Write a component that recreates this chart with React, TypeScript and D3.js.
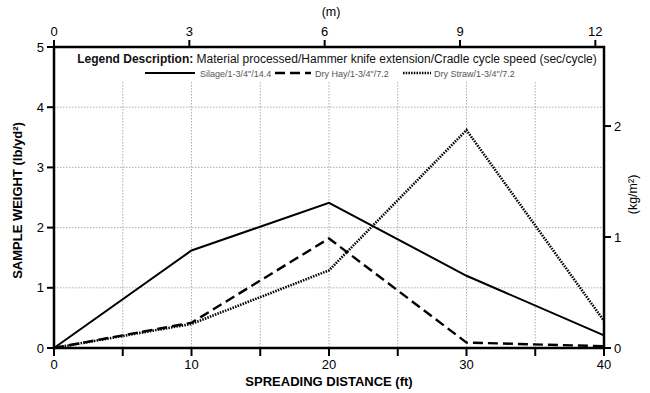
import { useMemo } from "react";
import * as d3 from "d3";

// spreading distance (ft)
const distanceFt = [0, 10, 20, 30, 40];

// sample weight (lb/yd²) per material
const silage = [0, 1.62, 2.41, 1.2, 0.21];
const dryHay = [0, 0.42, 1.82, 0.09, 0.03];
const dryStraw = [0, 0.4, 1.29, 3.62, 0.45];

const seriesNames = [
  "Silage/1-3/4\"/14.4",
  "Dry Hay/1-3/4\"/7.2",
  "Dry Straw/1-3/4\"/7.2",
];

const bottomTicks = [0, 10, 20, 30, 40];
const bottomMinor = [5, 15, 25, 35];
const leftTicks = [0, 1, 2, 3, 4, 5];
const rightTicks = [0, 1, 2];
const topTicks = [0, 3, 6, 9, 12];
const vGrid = [5, 10, 15, 20, 25, 30, 35];
const hGrid = [1, 2, 3, 4];

const FT_TO_M = 0.3048;
const LB_YD2_TO_KG_M2 = 0.542492;

const W = 650;
const H = 393;
const margin = { top: 47, right: 46, bottom: 45, left: 54 };
const FONT = "'Liberation Sans', Arial, sans-serif";

export default function App() {
  const innerW = W - margin.left - margin.right;
  const innerH = H - margin.top - margin.bottom;

  const x = d3.scaleLinear().domain([0, 40]).range([0, innerW]);
  const y = d3.scaleLinear().domain([0, 5]).range([innerH, 0]);
  const xTop = d3.scaleLinear().domain([0, 40 * FT_TO_M]).range([0, innerW]);
  const yRight = d3.scaleLinear().domain([0, 5 * LB_YD2_TO_KG_M2]).range([innerH, 0]);

  const line = d3
    .line<number>()
    .x((_, i) => x(distanceFt[i]))
    .y((d) => y(d));

  const series = useMemo(
    () => [
      { name: seriesNames[0], values: silage, dash: "none", width: 2 },
      { name: seriesNames[1], values: dryHay, dash: "10,5", width: 2.4 },
      { name: seriesNames[2], values: dryStraw, dash: "1.5,1.2", width: 2.6 },
    ],
    []
  );

  const legendTop = 35; // white legend area inside the plot

  return (
    <svg
      width={W}
      height={H}
      style={{ position: "absolute", left: 0, top: 0, background: "#fff" }}
      fontFamily={FONT}
    >
      <g transform={`translate(${margin.left},${margin.top})`}>
        {/* grid */}
        {vGrid.map((t) => (
          <line
            key={"vg" + t}
            x1={x(t)}
            x2={x(t)}
            y1={legendTop}
            y2={innerH}
            stroke="#999"
            strokeWidth={0.8}
            strokeDasharray="1.5,1.5"
          />
        ))}
        {hGrid.map((t) => (
          <line
            key={"hg" + t}
            x1={0}
            x2={innerW}
            y1={y(t)}
            y2={y(t)}
            stroke="#999"
            strokeWidth={0.8}
            strokeDasharray="1.5,1.5"
          />
        ))}

        {/* series */}
        {series.map((s) => (
          <path
            key={s.name}
            d={line(s.values) ?? ""}
            fill="none"
            stroke="#000"
            strokeWidth={s.width}
            strokeDasharray={s.dash}
          />
        ))}

        {/* legend */}
        <text x={innerW /2 + 8} y={16} textAnchor="middle" fontSize={12} fill="#111">
          <tspan fontWeight="bold">Legend Description: </tspan>
          <tspan>Material processed/Hammer knife extension/Cradle cycle speed (sec/cycle)</tspan>
        </text>
        {[
          { lx: 91, len: 50, tx: 146 },
          { lx: 221, len: 36, tx: 261 },
          { lx: 349, len: 28, tx: 380 },
        ].map((p, i) => (
          <g key={"lg" + i}>
            <line
              x1={p.lx}
              x2={p.lx + p.len}
              y1={26}
              y2={26}
              stroke="#000"
              strokeWidth={series[i].width}
              strokeDasharray={series[i].dash}
            />
            <text x={p.tx} y={29.5} fontSize={9} fill="#555">
              {series[i].name}
            </text>
          </g>
        ))}

        {/* frame */}
        <rect x={0} y={0} width={innerW} height={innerH} fill="none" stroke="#000" strokeWidth={2.5} />

        {/* bottom axis */}
        {[...bottomTicks, ...bottomMinor].map((t) => (
          <line key={"bt" + t} x1={x(t)} x2={x(t)} y1={innerH} y2={innerH + 8} stroke="#000" strokeWidth={2} />
        ))}
        {bottomTicks.map((t) => (
          <text key={"bl" + t} x={x(t)} y={innerH + 21} textAnchor="middle" fontSize={13}>
            {t}
          </text>
        ))}
        <text x={innerW / 2} y={innerH + 38} textAnchor="middle" fontSize={13} fontWeight="bold">
          SPREADING DISTANCE (ft)
        </text>

        {/* left axis */}
        {leftTicks.map((t) => (
          <g key={"lt" + t}>
            <line x1={-7} x2={0} y1={y(t)} y2={y(t)} stroke="#000" strokeWidth={2} />
            <text x={-10} y={y(t) + 4.5} textAnchor="end" fontSize={13}>
              {t}
            </text>
          </g>
        ))}
        <text
          transform={`translate(${-32},${innerH / 2 + 3}) rotate(-90)`}
          textAnchor="middle"
          fontSize={13}
          fontWeight="bold"
        >
          SAMPLE WEIGHT (lb/yd²)
        </text>

        {/* right axis */}
        {rightTicks.map((t) => (
          <g key={"rt" + t}>
            <line x1={innerW} x2={innerW + 7} y1={yRight(t)} y2={yRight(t)} stroke="#000" strokeWidth={2} />
            <text x={innerW + 10} y={yRight(t) + 4.5} textAnchor="start" fontSize={13}>
              {t}
            </text>
          </g>
        ))}
        <text
          transform={`translate(${innerW + 33},${innerH / 2 - 3}) rotate(-90)`}
          textAnchor="middle"
          fontSize={12.5}
        >
          (kg/m²)
        </text>

        {/* top axis */}
        {topTicks.map((t) => (
          <g key={"tt" + t}>
            <line x1={xTop(t)} x2={xTop(t)} y1={0} y2={-7} stroke="#000" strokeWidth={2} />
            <text x={xTop(t)} y={-11} textAnchor="middle" fontSize={13}>
              {t}
            </text>
          </g>
        ))}
        <text x={innerW / 2 + 2} y={-31} textAnchor="middle" fontSize={12.5}>
          (m)
        </text>
      </g>
    </svg>
  );
}
